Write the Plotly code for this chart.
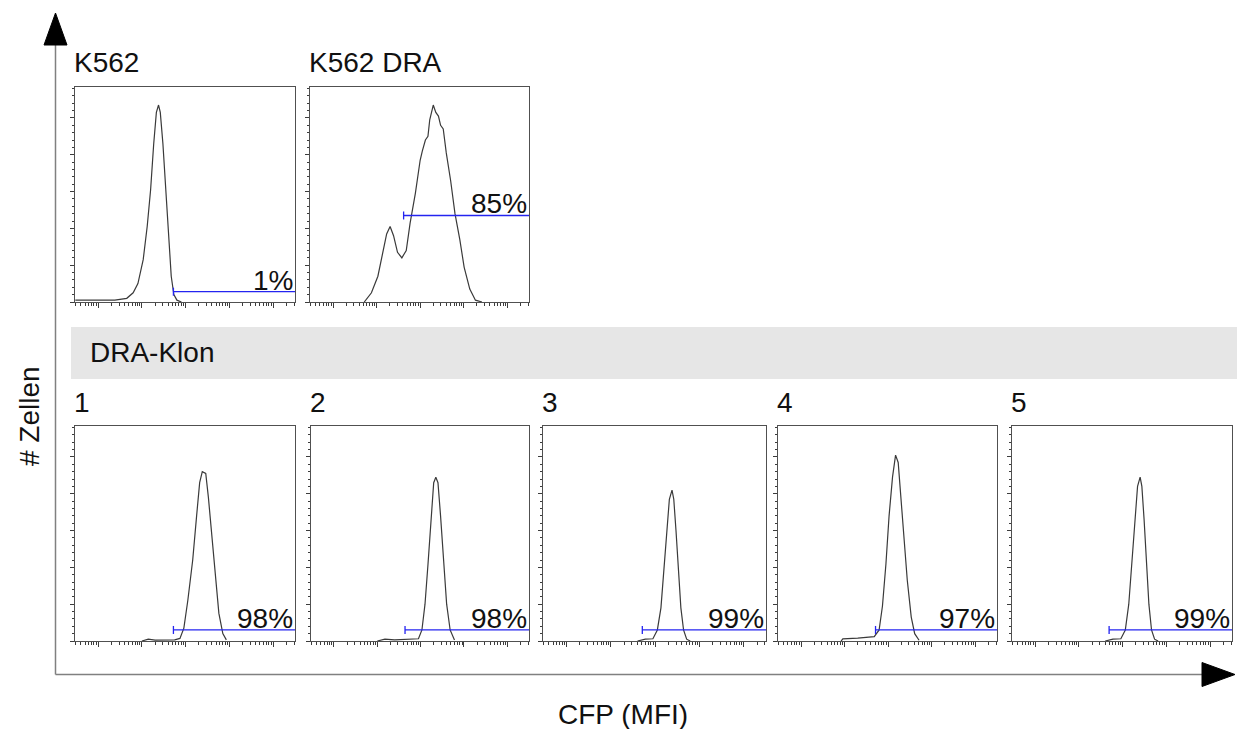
import plotly.graph_objects as go

W, H = 1237, 729

# ---------------- data ----------------
panel_titles = ["K562", "K562 DRA", "1", "2", "3", "4", "5"]

k562_mfi = [0.3, 2.4, 4.5, 6.3, 8.1, 10.7, 13.2, 15.8, 18.6, 21.4, 24.0, 26.3,
            30.2, 35.5, 40.7, 46.8, 53.7, 63.1, 80]
k562_count = [1, 1, 2, 5, 10, 23, 41, 61, 86, 103, 107, 103, 86, 61, 35, 14, 4, 1, 0]

dra_mfi = [5.2, 7.6, 10.7, 13.8, 17.0, 20.4, 24.5, 30.2, 38.0, 47.9, 58.9, 77.6,
           100, 112, 132, 151, 166, 200, 229, 263, 295, 339, 398, 501, 631, 813,
           1023, 1380, 1862, 2630]
dra_count = [0, 5, 14, 26, 37, 41, 36, 27, 24, 28, 43, 59, 77, 82, 88, 90, 99,
             107, 103, 101, 96, 94, 81, 66, 48, 34, 19, 7, 1, 0]

c1_mfi = [10, 14, 20, 30, 56, 74, 91, 112, 145, 178, 209, 240, 288, 331, 398,
          468, 575, 708, 851]
c1_count = [0, 1, 0.5, 0.6, 0.6, 1.4, 7, 22, 44, 68, 86, 92, 91, 78, 57, 35, 15, 4, 0.6]

c2_mfi = [10, 15, 25, 45, 72, 89, 107, 126, 148, 174, 200, 224, 251, 288, 339,
          398, 479, 603]
c2_count = [0, 1, 0.6, 0.8, 1, 1.2, 6, 20, 42, 68, 86, 89, 86, 68, 42, 20, 6, 0.6]

c3_mfi = [40, 60, 89, 112, 135, 158, 182, 209, 240, 263, 295, 331, 380, 437,
          513, 617]
c3_count = [0, 1, 1.2, 6, 18, 38, 60, 77, 82, 77, 60, 38, 18, 6, 1, 0]

c4_mfi = [8.3, 9.1, 20, 32, 42, 48, 62, 74, 89, 105, 126, 148, 170, 195, 229,
          275, 339, 407, 513]
c4_count = [0, 1.2, 1.6, 2, 2.4, 2.4, 6, 19, 42, 68, 89, 101, 97, 78, 55, 33,
            13, 4, 0.4]

c5_mfi = [40, 60, 91, 115, 138, 162, 191, 219, 251, 275, 309, 347, 398, 457,
          537, 646]
c5_count = [0, 1, 1.2, 6, 20, 42, 66, 84, 89, 84, 66, 42, 20, 6, 1, 0]

curves = [(k562_mfi, k562_count), (dra_mfi, dra_count), (c1_mfi, c1_count),
          (c2_mfi, c2_count), (c3_mfi, c3_count), (c4_mfi, c4_count),
          (c5_mfi, c5_count)]

gate_start = [52.5, 41.7, 52.5, 43.6, 51.3, 51.3, 49.0]
gate_level = [5.6, 47, 6, 6, 6, 6, 6]
gate_pct = ["1%", "85%", "98%", "98%", "99%", "97%", "99%"]

# ---------------- layout geometry (pixels) ----------------
boxes = [(75, 295, 87, 302), (310, 529, 87, 302),
         (75, 295, 426, 641), (311, 529, 426, 641), (543, 766, 426, 641),
         (778, 997, 426, 641), (1012, 1232, 426, 641)]

def fx(px):
    return px / W

def fy(py):
    return 1 - py / H

FONT = "Liberation Sans, Arial, sans-serif"
FS = 28
XMAX_LOG = 4.5
YMAX = 116.8
AX = "#3c3c3c"

fig = go.Figure()
minor_vals = [m * 10 ** k for k in range(-1, 5) for m in range(2, 10)]

for i, ((xs, ys), (l, r, t, b)) in enumerate(zip(curves, boxes)):
    n = i + 1
    xa = "x" if n == 1 else f"x{n}"
    ya = "y" if n == 1 else f"y{n}"
    fig.add_trace(go.Scatter(x=xs, y=ys, mode="lines", xaxis=xa, yaxis=ya,
                             line=dict(color="#3a3a3a", width=1.2),
                             showlegend=False, hoverinfo="skip"))
    gs, gl = gate_start[i], gate_level[i]
    tickh = YMAX * 4 / (b - t)
    fig.add_trace(go.Scatter(x=[gs, gs, None, gs, 10 ** XMAX_LOG],
                             y=[gl - tickh, gl + tickh, None, gl, gl],
                             mode="lines", xaxis=xa, yaxis=ya,
                             line=dict(color="#2424f0", width=1.3),
                             showlegend=False, hoverinfo="skip"))
    axx = dict(domain=[fx(l), fx(r)], anchor=ya, type="log",
               range=[-0.53, XMAX_LOG], showgrid=False, zeroline=False,
               showline=True, mirror=True, linecolor="#505050", linewidth=1,
               ticks="outside", ticklen=5, tickcolor=AX, tickwidth=1.2,
               tickvals=[1, 10, 100, 1000, 10000], showticklabels=False,
               minor=dict(tickmode="array", tickvals=minor_vals, ticks="outside",
                          ticklen=3, tickcolor=AX, tickwidth=1, showgrid=False))
    axy = dict(domain=[fy(b), fy(t)], anchor=xa, range=[0, YMAX],
               showgrid=False, zeroline=False, showline=True, mirror=True,
               linecolor="#505050", linewidth=1, ticks="outside", ticklen=4,
               tickcolor=AX, tickwidth=1.2, tickmode="linear", tick0=0, dtick=20,
               showticklabels=False,
               minor=dict(ticks="outside", ticklen=2, dtick=4,
                          tickcolor=AX, tickwidth=1, showgrid=False))
    fig.layout["xaxis" if n == 1 else f"xaxis{n}"] = axx
    fig.layout["yaxis" if n == 1 else f"yaxis{n}"] = axy

    # title above the panel
    fig.add_annotation(x=fx(l - 3), y=fy(t - 24), xref="paper", yref="paper",
                       text=panel_titles[i], showarrow=False, xanchor="left",
                       yanchor="middle", font=dict(family=FONT, size=FS, color="#111"))
    # percentage label
    fig.add_annotation(x=fx(r), y=gl, xref="paper", yref=ya,
                       text=gate_pct[i], showarrow=False, xanchor="right",
                       yanchor="bottom", yshift=-6,
                       font=dict(family=FONT, size=FS, color="#111"))

# gray band
fig.add_shape(type="rect", xref="paper", yref="paper", x0=fx(71), x1=fx(1237),
              y0=fy(379), y1=fy(327), fillcolor="#e6e6e6", line=dict(width=0),
              layer="below")
fig.add_annotation(x=fx(88), y=fy(352), xref="paper", yref="paper", text="DRA-Klon",
                   showarrow=False, xanchor="left", yanchor="middle",
                   font=dict(family=FONT, size=FS, color="#111"))

# axes arrows
fig.add_shape(type="line", xref="paper", yref="paper", x0=fx(55.5), x1=fx(55.5),
              y0=fy(44), y1=fy(674.5), line=dict(color="#808080", width=1.5))
fig.add_shape(type="line", xref="paper", yref="paper", x0=fx(55.5), x1=fx(1204),
              y0=fy(674.5), y1=fy(674.5), line=dict(color="#808080", width=1.5))

def tri(pts):
    return "M " + " L ".join(f"{fx(a)},{fy(c)}" for a, c in pts) + " Z"

fig.add_shape(type="path", xref="paper", yref="paper",
              path=tri([(55.5, 13), (44, 45), (67, 45)]),
              fillcolor="black", line=dict(color="black", width=1))
fig.add_shape(type="path", xref="paper", yref="paper",
              path=tri([(1235, 674.5), (1202, 662.5), (1202, 686.5)]),
              fillcolor="black", line=dict(color="black", width=1))

fig.add_annotation(x=fx(29), y=fy(416), xref="paper", yref="paper", text="# Zellen",
                   showarrow=False, textangle=-90, xanchor="center", yanchor="middle",
                   font=dict(family=FONT, size=FS, color="#111"))
fig.add_annotation(x=fx(623), y=fy(714), xref="paper", yref="paper", text="CFP (MFI)",
                   showarrow=False, xanchor="center", yanchor="middle",
                   font=dict(family=FONT, size=FS, color="#111"))

fig.update_layout(width=W, height=H, margin=dict(l=0, r=0, t=0, b=0),
                  paper_bgcolor="white", plot_bgcolor="white")

fig.write_html("out.html")
